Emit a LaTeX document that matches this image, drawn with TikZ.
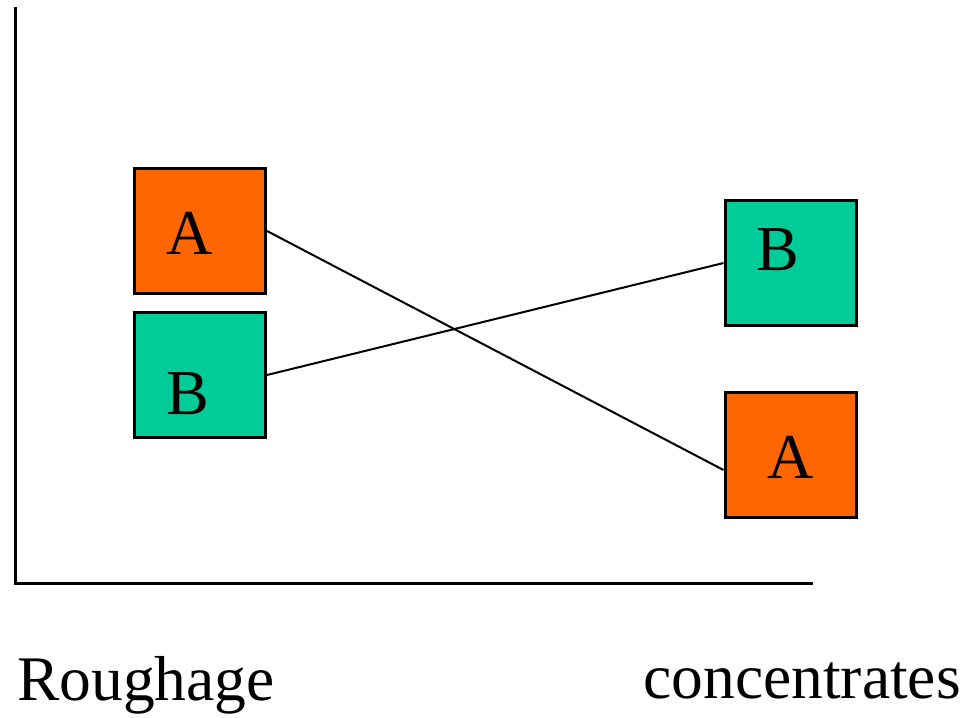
\documentclass[tikz,border=0pt]{standalone}
\usepackage{fontspec}
\setmainfont{Liberation Serif}
\definecolor{feedorange}{HTML}{FF6600}
\definecolor{feedgreen}{HTML}{00CC99}
\tikzset{
  feedbox/.style={draw, line width=3pt, minimum width=131pt, minimum height=125pt, inner sep=0pt},
  boxletter/.style={font=\fontsize{64}{70}\selectfont, inner sep=0pt},
  axislabel/.style={font=\fontsize{63.5}{70}\selectfont, inner sep=0pt}
}
\begin{document}
\begin{tikzpicture}[x=1pt, y=-1pt]
  \useasboundingbox (0,0) rectangle (965,717);
  % Achsen
  \draw[line width=3pt, line join=miter] (15,7) -- (15,583) -- (813,583);
  % Kaesten links
  \node[feedbox, fill=feedorange,
        label={[boxletter, xshift=-10pt, yshift=-2.5pt]center:A}] (Aleft) at (200,231) {};
  \node[feedbox, fill=feedgreen,
        label={[boxletter, xshift=-12.5pt, yshift=-18.5pt]center:B}] (Bleft) at (200,375) {};
  % Kaesten rechts
  \node[feedbox, fill=feedgreen,
        label={[boxletter, xshift=-12.5pt, yshift=13.5pt]center:B}] (Bright) at (790.5,263) {};
  \node[feedbox, fill=feedorange,
        label={[boxletter, yshift=-2pt]center:A}] (Aright) at (790.5,455) {};
  % Verbindungen
  \draw[line width=2pt] (Aleft.east) -- ([yshift=-15pt]Aright.west);
  \draw[line width=2pt] (Bleft.east) -- (Bright.west);
  % Beschriftung
  \node[axislabel, anchor=base west] (rough) at (17,700) {Roughage};
  \node[axislabel, anchor=base east] (conc) at (961,698) {concentrates};
\end{tikzpicture}
\end{document}
